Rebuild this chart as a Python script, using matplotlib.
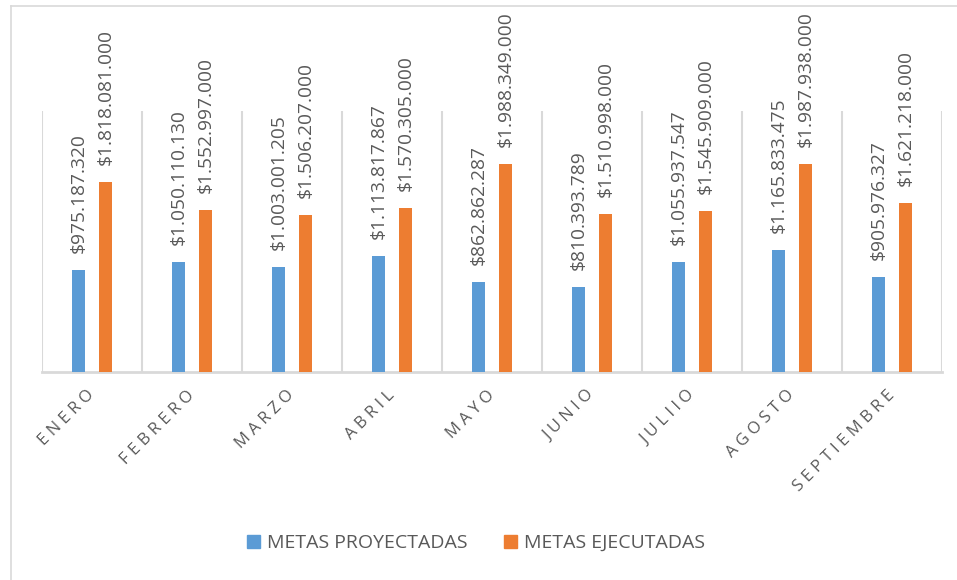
import matplotlib
matplotlib.use("Agg")
import matplotlib.pyplot as plt
from matplotlib.patches import Patch
import numpy as np

# data
meses = ["ENERO", "FEBRERO", "MARZO", "ABRIL", "MAYO", "JUNIO",
         "JULIIO", "AGOSTO", "SEPTIEMBRE"]
proyectadas = [975187320, 1050110130, 1003001205, 1113817867, 862862287,
               810393789, 1055937547, 1165833475, 905976327]
ejecutadas = [1818081000, 1552997000, 1506207000, 1570305000, 1988349000,
              1510998000, 1545909000, 1987938000, 1621218000]
series_names = ["METAS PROYECTADAS", "METAS EJECUTADAS"]

AZUL = "#5B9BD5"
NARANJA = "#ED7D31"
GRIS_TXT = "#595959"
GRIS_LIN = "#D9D9D9"
FONT = ["Open Sans", "DejaVu Sans"]


def pesos(v):
    # Spanish style thousand separators
    return "$" + f"{v:,}".replace(",", ".")


fig = plt.figure(figsize=(9.57, 5.8), dpi=100)
ax = fig.add_axes([42 / 957, 1 - 372 / 580, 900 / 957, 261 / 580])

x = np.arange(len(meses))
w = 0.13
off = 0.135
b1 = ax.bar(x - off, proyectadas, w, color=AZUL, label=series_names[0], zorder=3)
b2 = ax.bar(x + off, ejecutadas, w, color=NARANJA, label=series_names[1], zorder=3)

for bars, vals in ((b1, proyectadas), (b2, ejecutadas)):
    for rect, v in zip(bars, vals):
        ax.annotate(pesos(v), (rect.get_x() + rect.get_width() / 2, rect.get_height()),
                    xytext=(0, 17), textcoords="offset pixels", rotation=90,
                    ha="center", va="bottom", color=GRIS_TXT, fontsize=13.8,
                    family=FONT, annotation_clip=False)

ax.set_xlim(-0.5, len(meses) - 0.5)
ax.set_ylim(0, 2.5e9)
for b in np.arange(-0.5, len(meses), 1.0):
    ax.axvline(b, color=GRIS_LIN, lw=1.5, zorder=1)
for s in ax.spines.values():
    s.set_visible(False)
ax.axhline(0, color=GRIS_LIN, lw=2, zorder=2, clip_on=False)
ax.set_yticks([])
ax.set_xticks(x)
ax.set_xticklabels(["\u2009\u200a".join(m) for m in meses], rotation=45,
                   rotation_mode="anchor", ha="right", va="center",
                   color=GRIS_TXT, fontsize=12, family=FONT)
ax.tick_params(axis="x", length=0, pad=15)

handles = [Patch(color=AZUL), Patch(color=NARANJA)]
leg = fig.legend(handles, series_names, loc="center", bbox_to_anchor=(476 / 957, 1 - 543 / 580),
                 ncol=2, frameon=False, handlelength=0.65, handleheight=0.65,
                 handletextpad=0.35, columnspacing=1.9,
                 prop={"family": FONT, "size": 14})
for t in leg.get_texts():
    t.set_color(GRIS_TXT)

# chart area border (cropped on the right and bottom in the reference)
fig.add_artist(plt.Line2D([11 / 957, 11 / 957], [0, 1 - 6 / 580], transform=fig.transFigure,
                          color=GRIS_LIN, lw=1.2))
fig.add_artist(plt.Line2D([11 / 957, 1], [1 - 6 / 580, 1 - 6 / 580], transform=fig.transFigure,
                          color=GRIS_LIN, lw=1.2))

fig.savefig("out.png", dpi=100)
